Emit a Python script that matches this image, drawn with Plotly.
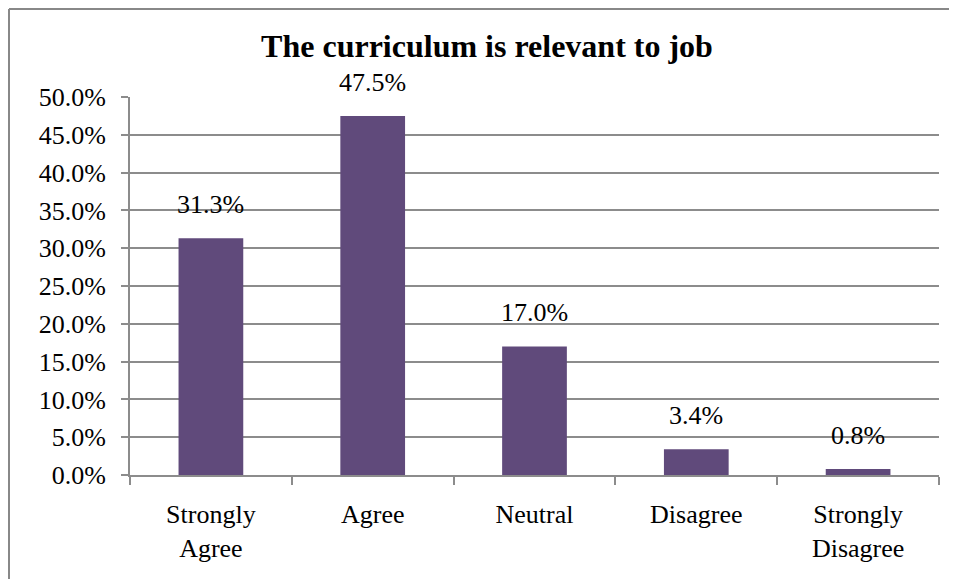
import plotly.graph_objects as go

categories = ["Strongly<br>Agree", "Agree", "Neutral", "Disagree", "Strongly<br>Disagree"]
values = [31.3, 47.5, 17.0, 3.4, 0.8]
y_ticks = [0, 5, 10, 15, 20, 25, 30, 35, 40, 45, 50]
y_tick_labels = [f"{v:.1f}%" for v in y_ticks]
title_text = "The curriculum is relevant to job"

FONT = "Liberation Serif"
GRID = "#8c8c8c"
BAR = "#604A7B"

# figure sized to fit inside the window with the page's 8px body margin
W, H = 941, 571
L, T, PW, PH = 122, 89, 809, 378

fig = go.Figure()
fig.add_trace(go.Bar(x=categories, y=values, marker=dict(color=BAR, line=dict(width=0)),
                     width=0.4, hoverinfo="skip"))

for c, v in zip(categories, values):
    fig.add_annotation(x=c, y=v, text=f"{v:.1f}%", showarrow=False,
                       yanchor="bottom", yshift=17,
                       font=dict(family=FONT, size=26, color="#000"))

fig.update_layout(
    width=W, height=H,
    margin=dict(l=L, r=W - L - PW, t=T, b=H - T - PH),
    paper_bgcolor="white", plot_bgcolor="white",
    showlegend=False,
    title=dict(text=f"<b>{title_text}</b>", x=0.4413, xref="paper", xanchor="center",
               y=1 - 38 / H, yref="container", yanchor="middle",
               font=dict(family=FONT, size=32, color="#000")),
    font=dict(family=FONT, size=26, color="#000"),
)
fig.update_xaxes(
    type="category", showgrid=False, showline=True, linecolor=GRID, linewidth=2,
    ticks="outside", tickson="boundaries", ticklen=8, tickcolor=GRID, tickwidth=2,
    ticklabelstandoff=15,
    tickfont=dict(family=FONT, size=26, color="#000"),
)
fig.update_yaxes(
    range=[0, 50], tickvals=y_ticks, ticktext=y_tick_labels,
    showgrid=True, gridcolor=GRID, gridwidth=2,
    showline=True, linecolor=GRID, linewidth=2,
    ticks="outside", ticklen=7, tickcolor=GRID, tickwidth=2,
    ticklabelstandoff=10, zeroline=False,
    tickfont=dict(family=FONT, size=26, color="#000"),
)

# outer chart border (top and left edges visible in the reference)
bx = (1 - L) / PW
by = 1 + (T - 1) / PH
fig.add_shape(type="line", xref="paper", yref="paper",
              x0=bx, x1=1 + (W - L - PW) / PW, y0=by, y1=by,
              line=dict(color="#888888", width=2))
fig.add_shape(type="line", xref="paper", yref="paper",
              x0=bx, x1=bx, y0=by, y1=-(H - T - PH) / PH,
              line=dict(color="#888888", width=2))

fig.write_html("out.html")
